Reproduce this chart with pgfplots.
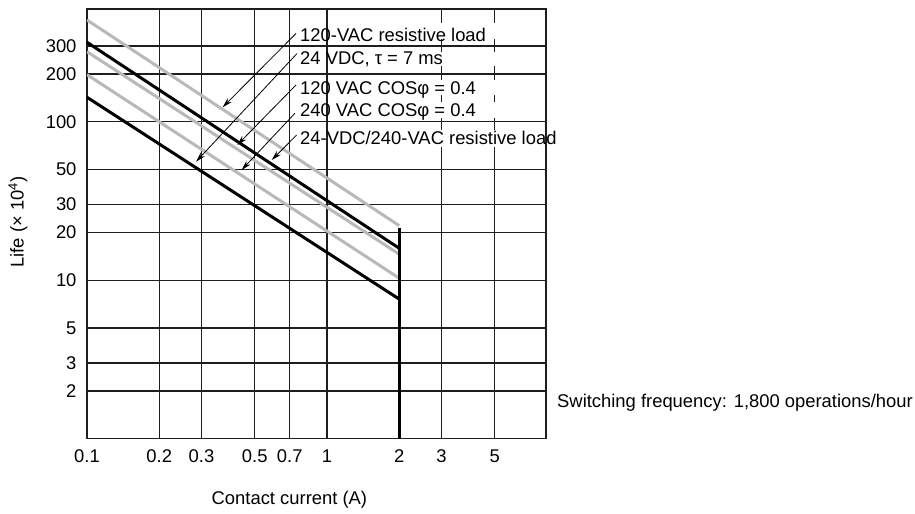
\documentclass[border=0pt]{standalone}
\usepackage{fontspec}
\setmainfont{Liberation Sans}
\usepackage{pgfplots}
\pgfplotsset{compat=1.18}
\usetikzlibrary{arrows.meta}
\definecolor{lgray}{RGB}{185,185,185}
\definecolor{gridc}{RGB}{30,30,30}
\begin{document}
\begin{tikzpicture}[font=\fontsize{18.4bp}{21bp}\selectfont]
\useasboundingbox (-87bp,-75.3bp) rectangle (828bp,438.7bp);
\begin{axis}[
  at={(0,0)}, anchor=south west,
  scale only axis, width=459bp, height=429.7bp,
  xmode=log, ymode=log,
  xmin=0.1, xmax=8.18, ymin=1, ymax=514,
  xtick={0.1,0.2,0.3,0.5,0.7,1,3,5},
  xticklabels={0.1,0.2,0.3,0.5,0.7,1,3,5},
  extra x ticks={2}, extra x tick labels={2},
  extra x tick style={grid=none},
  ytick={2,3,5,10,20,30,50,100,200,300},
  yticklabels={2,3,5,10,20,30,50,100,200,300},
  grid=major, major grid style={gridc, line width=1.2bp},
  axis line style={gridc, line width=1.2bp},
  major tick length=0pt, minor tick length=0pt,
  tick label style={font=\fontsize{18.4bp}{21bp}\selectfont},
  /pgf/number format/assume math mode=true,
  xticklabel style={yshift=-7bp, text height=13.2bp, text depth=0bp},
  yticklabel style={xshift=-7bp},
  xlabel={Contact current (A)},
  ylabel={Life (× 10\textsuperscript{4})},
  xlabel style={at={(axis description cs:0.441,-0.1427)}, anchor=center},
  ylabel style={at={(axis description cs:-0.1503,0.504)}, anchor=center},
]
\addplot[lgray, line width=3bp] coordinates {(0.1,438) (2,22.1)};
\addplot[black, line width=3bp] coordinates {(0.1,317) (2,15.9)};
\addplot[lgray, line width=3bp] coordinates {(0.1,276.5) (2,14.6)};
\addplot[lgray, line width=3bp] coordinates {(0.1,198) (2,10.3)};
\addplot[black, line width=3bp] coordinates {(0.1,142.6) (2,7.6)};
\addplot[black, line width=3bp] coordinates {(2,1) (2,21.5)};
% leader arrows
\draw[-{Stealth[length=10bp,width=5.5bp]}, line width=0.8bp] (axis cs:0.743,360) -- (axis cs:0.3675,123.3);
\draw[-{Stealth[length=10bp,width=5.5bp]}, line width=0.8bp] (axis cs:0.750,269) -- (axis cs:0.2846,55.9);
\draw[-{Stealth[length=10bp,width=5.5bp]}, line width=0.8bp] (axis cs:0.743,170.4) -- (axis cs:0.4229,71.3);
\draw[-{Stealth[length=10bp,width=5.5bp]}, line width=0.8bp] (axis cs:0.7356,113) -- (axis cs:0.441,49.6);
\draw[-{Stealth[length=10bp,width=5.5bp]}, line width=0.8bp] (axis cs:0.7477,82.4) -- (axis cs:0.5884,57.3);
\end{axis}
% white gaps in the 3 and 5 gridlines behind the label block
\foreach \xa in {354.5,407.8}{
  \foreach \ya/\yb in {399.7/415.7, 372.7/386.7, 343.7/358.7, 320.7/336.7, 291.7/308.7}{
    \fill[white] (\xa bp-3bp,\ya bp) rectangle (\xa bp+3bp,\yb bp);
  }
}
\node[anchor=base west, inner sep=0] at (213bp,397.5bp) {120-VAC resistive load};
\node[anchor=base west, inner sep=0] at (213bp,374.1bp) {24 VDC, τ = 7 ms};
\node[anchor=base west, inner sep=0] at (213bp,344.1bp) {120 VAC COSφ = 0.4};
\node[anchor=base west, inner sep=0] at (213bp,322.5bp) {240 VAC COSφ = 0.4};
\node[anchor=base west, inner sep=0] at (213bp,294.1bp) {24-VDC/240-VAC resistive load};
\node[anchor=west, inner sep=0] at (470bp,35.7bp) {Switching frequency: 1,800 operations/hour};
\end{tikzpicture}
\end{document}
